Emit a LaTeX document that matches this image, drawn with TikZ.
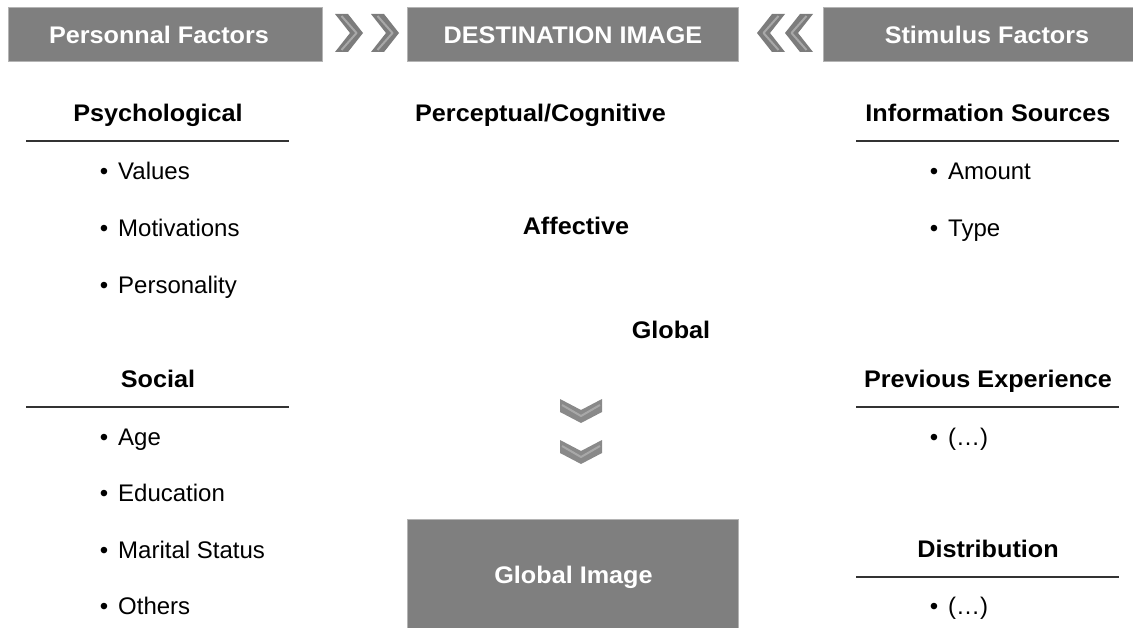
\documentclass[tikz,border=0pt]{standalone}
\usepackage{fontspec}
\setmainfont{Liberation Sans}[BoldFeatures={FakeStretch=1.05}]
\definecolor{headgray}{HTML}{7F7F7F}
\definecolor{headedge}{HTML}{B4B4B4}
\definecolor{chevgray}{HTML}{7C7C7C}
\definecolor{chevlight}{HTML}{A8A8A8}
\definecolor{rulecol}{HTML}{333333}
\begin{document}
\begin{tikzpicture}[x=1pt,y=-1pt,
  every node/.style={inner sep=0pt, font=\fontsize{24}{28}\selectfont},
  headbox/.style={fill=headgray, draw=headedge, line width=1pt,
    minimum height=54pt},
  headtext/.style={text=white, text height=17pt, text depth=0pt,
    font=\fontsize{24}{28}\selectfont\bfseries},
  title/.style={anchor=base, font=\fontsize{24}{28}\selectfont\bfseries},
  item/.style={anchor=base west},
  rulebar/.style={line width=1.6pt, draw=rulecol},
  chevfill/.style={fill=chevgray},
  chevline/.style={draw=chevlight, line width=2pt, line join=round}
]
\useasboundingbox (0,0) rectangle (1133,628);

% header bar
\node[headbox, minimum width=314pt] (pfbox) at (165,35) {};
\node[headtext] (pf) at (159,35) {Personnal Factors};
\node[headbox, minimum width=331pt] (dibox) at (572.5,35) {};
\node[headtext] (di) at (573,35) {DESTINATION IMAGE};
\node[headbox, minimum width=328pt] (sfbox) at (987,35) {};
\node[headtext] (sf) at (987,35) {Stimulus Factors};

% double chevrons pointing inwards
\foreach \x in {335, 371}{
  \fill[chevfill] (\x,14) -- (\x+13,14) -- (\x+28,33) -- (\x+13,52) -- (\x,52) -- (\x+15,33) -- cycle;
  \draw[chevline] (\x+6.5,16) -- (\x+21.5,33) -- (\x+6.5,50);
}
\foreach \x in {785, 813}{
  \fill[chevfill] (\x,14) -- (\x-13,14) -- (\x-28,33) -- (\x-13,52) -- (\x,52) -- (\x-15,33) -- cycle;
  \draw[chevline] (\x-6.5,16) -- (\x-21.5,33) -- (\x-6.5,50);
}

% personal factors column
\node[title] (psy) at (158,121.5) {Psychological};
\draw[rulebar] (26,141) -- (289,141);
\newcommand\listitem[3]{\node[item] (#1) at (#2) {\llap{\textbullet\hspace{10pt}}#3};}
\listitem{val}{118,179.5}{Values}
\listitem{mot}{118,236.5}{Motivations}
\listitem{per}{118,293.5}{Personality}
\node[title] (soc) at (158,387.5) {Social};
\draw[rulebar] (26,407) -- (289,407);
\listitem{age}{118,445.5}{Age}
\listitem{edu}{118,501.5}{Education}
\listitem{mar}{118,558.5}{Marital Status}
\listitem{oth}{118,614.5}{Others}

% destination image column
\node[title] (pc) at (540.5,121.5) {Perceptual/Cognitive};
\node[title] (aff) at (576,234.5) {Affective};
\node[title] (glo) at (671,338.5) {Global};
\foreach \y in {399,440}{
  \fill[chevgray!90] (560,\y) -- (581,\y+11) -- (602,\y) -- (602,\y+13) -- (581,\y+24) -- (560,\y+13) -- cycle;
  \draw[chevline] (562,\y+6) -- (581,\y+17) -- (600,\y+6);
}
\node[headbox, minimum width=331pt, minimum height=112pt] (gibox) at (572.5,575) {};
\node[headtext] (gi) at (573.5,575) {Global Image};

% stimulus factors column
\node[title] (inf) at (988,121.5) {Information Sources};
\draw[rulebar] (856,141) -- (1119,141);
\listitem{amt}{948,179.5}{Amount}
\listitem{typ}{948,236.5}{Type}
\node[title] (pre) at (988,387.5) {Previous Experience};
\draw[rulebar] (856,407) -- (1119,407);
\listitem{pex}{948,445.5}{(\dots)}
\node[title] (dis) at (988,557.5) {Distribution};
\draw[rulebar] (856,577) -- (1119,577);
\listitem{dex}{948,614.5}{(\dots)}
\end{tikzpicture}
\end{document}
